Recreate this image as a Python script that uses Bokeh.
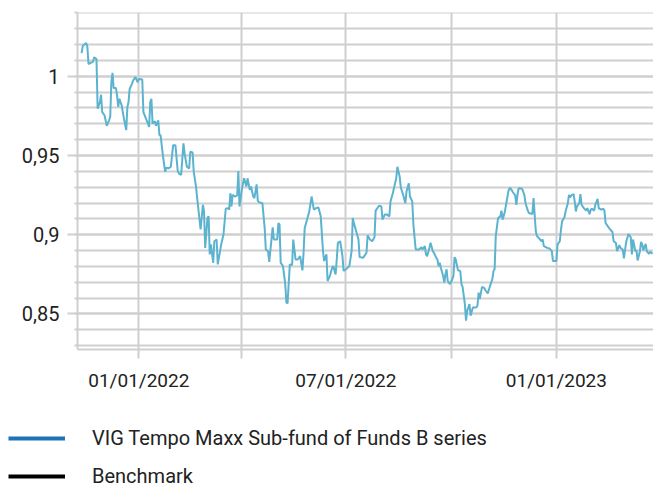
from datetime import datetime
import pandas as pd
from bokeh.plotting import figure
from bokeh.models import (Range1d, FixedTicker, CustomJSTickFormatter, Legend,
                          LegendItem, ColumnDataSource)
from bokeh.layouts import column, row
from bokeh.embed import file_html
from bokeh.resources import INLINE

# ---------------- data ----------------
DATES = [
    "2021-11-12", "2021-11-13", "2021-11-16", "2021-11-17", "2021-11-18", "2021-11-22", "2021-11-23",
    "2021-11-25", "2021-11-26", "2021-11-28", "2021-11-29", "2021-11-30", "2021-12-02", "2021-12-04",
    "2021-12-06", "2021-12-07", "2021-12-08", "2021-12-09", "2021-12-10", "2021-12-12", "2021-12-13",
    "2021-12-14", "2021-12-15", "2021-12-17", "2021-12-19", "2021-12-21", "2021-12-22", "2021-12-23",
    "2021-12-24", "2021-12-26", "2021-12-27", "2021-12-29", "2021-12-31", "2022-01-01", "2022-01-04",
    "2022-01-05", "2022-01-07", "2022-01-09", "2022-01-10", "2022-01-11", "2022-01-12", "2022-01-13",
    "2022-01-15", "2022-01-16", "2022-01-18", "2022-01-19", "2022-01-20", "2022-01-22", "2022-01-24",
    "2022-01-25", "2022-01-27", "2022-01-29", "2022-01-31", "2022-02-02", "2022-02-04", "2022-02-05",
    "2022-02-07", "2022-02-09", "2022-02-10", "2022-02-12", "2022-02-14", "2022-02-15", "2022-02-17",
    "2022-02-18", "2022-02-20", "2022-02-21", "2022-02-24", "2022-02-26", "2022-02-27", "2022-02-28",
    "2022-03-02", "2022-03-03", "2022-03-04", "2022-03-05", "2022-03-07", "2022-03-08", "2022-03-10",
    "2022-03-11", "2022-03-12", "2022-03-14", "2022-03-16", "2022-03-18", "2022-03-20", "2022-03-21",
    "2022-03-22", "2022-03-23", "2022-03-24", "2022-03-26", "2022-03-28", "2022-03-29", "2022-03-30",
    "2022-04-01", "2022-04-03", "2022-04-05", "2022-04-06", "2022-04-08", "2022-04-09", "2022-04-11",
    "2022-04-12", "2022-04-14", "2022-04-15", "2022-04-16", "2022-04-19", "2022-04-21", "2022-04-22",
    "2022-04-24", "2022-04-25", "2022-04-28", "2022-04-29", "2022-05-02", "2022-05-03", "2022-05-04",
    "2022-05-05", "2022-05-07", "2022-05-09", "2022-05-10", "2022-05-11", "2022-05-13", "2022-05-15",
    "2022-05-16", "2022-05-18", "2022-05-20", "2022-05-22", "2022-05-24", "2022-05-25", "2022-05-26",
    "2022-05-28", "2022-05-30", "2022-06-01", "2022-06-03", "2022-06-05", "2022-06-07", "2022-06-09",
    "2022-06-11", "2022-06-12", "2022-06-14", "2022-06-15", "2022-06-17", "2022-06-19", "2022-06-20",
    "2022-06-22", "2022-06-23", "2022-06-24", "2022-06-26", "2022-06-28", "2022-06-29", "2022-07-01",
    "2022-07-04", "2022-07-06", "2022-07-07", "2022-07-08", "2022-07-10", "2022-07-12", "2022-07-13",
    "2022-07-16", "2022-07-19", "2022-07-20", "2022-07-22", "2022-07-24", "2022-07-26", "2022-07-27",
    "2022-07-30", "2022-08-01", "2022-08-02", "2022-08-04", "2022-08-06", "2022-08-08", "2022-08-09",
    "2022-08-11", "2022-08-12", "2022-08-14", "2022-08-15", "2022-08-17", "2022-08-18", "2022-08-20",
    "2022-08-22", "2022-08-23", "2022-08-25", "2022-08-26", "2022-08-28", "2022-08-29", "2022-08-31",
    "2022-09-03", "2022-09-05", "2022-09-06", "2022-09-08", "2022-09-09", "2022-09-10", "2022-09-12",
    "2022-09-13", "2022-09-15", "2022-09-16", "2022-09-18", "2022-09-19", "2022-09-20", "2022-09-21",
    "2022-09-22", "2022-09-24", "2022-09-25", "2022-09-26", "2022-09-27", "2022-09-28", "2022-09-30",
    "2022-10-02", "2022-10-03", "2022-10-04", "2022-10-05", "2022-10-07", "2022-10-09", "2022-10-10",
    "2022-10-11", "2022-10-13", "2022-10-14", "2022-10-15", "2022-10-17", "2022-10-18", "2022-10-20",
    "2022-10-23", "2022-10-24", "2022-10-25", "2022-10-26", "2022-10-28", "2022-10-30", "2022-10-31",
    "2022-11-02", "2022-11-04", "2022-11-06", "2022-11-07", "2022-11-08", "2022-11-09", "2022-11-11",
    "2022-11-13", "2022-11-14", "2022-11-15", "2022-11-17", "2022-11-18", "2022-11-20", "2022-11-21",
    "2022-11-22", "2022-11-24", "2022-11-26", "2022-11-27", "2022-11-28", "2022-11-29", "2022-12-02",
    "2022-12-04", "2022-12-05", "2022-12-07", "2022-12-08", "2022-12-11", "2022-12-12", "2022-12-13",
    "2022-12-14", "2022-12-15", "2022-12-17", "2022-12-19", "2022-12-20", "2022-12-21", "2022-12-24",
    "2022-12-26", "2022-12-28", "2022-12-29", "2023-01-01", "2023-01-02", "2023-01-04", "2023-01-05",
    "2023-01-06", "2023-01-08", "2023-01-09", "2023-01-11", "2023-01-12", "2023-01-13", "2023-01-14",
    "2023-01-16", "2023-01-17", "2023-01-18", "2023-01-19", "2023-01-21", "2023-01-22", "2023-01-23",
    "2023-01-25", "2023-01-27", "2023-01-28", "2023-01-30", "2023-01-31", "2023-02-01", "2023-02-03",
    "2023-02-04", "2023-02-06", "2023-02-07", "2023-02-09", "2023-02-11", "2023-02-12", "2023-02-13",
    "2023-02-15", "2023-02-17", "2023-02-19", "2023-02-20", "2023-02-22", "2023-02-23", "2023-02-25",
    "2023-02-26", "2023-02-28", "2023-03-01", "2023-03-03", "2023-03-04", "2023-03-05", "2023-03-07",
    "2023-03-08", "2023-03-09", "2023-03-11", "2023-03-12", "2023-03-13", "2023-03-15", "2023-03-16",
    "2023-03-17", "2023-03-18", "2023-03-20", "2023-03-21", "2023-03-23", "2023-03-24", "2023-03-26",
]

NAV = [
    1.0146, 1.0192, 1.0209, 1.0188, 1.0077, 1.0092, 1.0119,
    1.0108, 0.9795, 0.9837, 0.9883, 0.9774, 0.9754, 0.9687,
    0.9722, 0.9743, 0.9962, 1.0021, 0.9925, 0.9925, 0.9879,
    0.9806, 0.9858, 0.9816, 0.9732, 0.9660, 0.9806, 0.9837,
    0.9920, 0.9952, 0.9973, 0.9994, 0.9962, 0.9983, 0.9979,
    0.9774, 0.9737, 0.9701, 0.9680, 0.9837, 0.9858, 0.9701,
    0.9716, 0.9687, 0.9722, 0.9628, 0.9628, 0.9503, 0.9398,
    0.9423, 0.9419, 0.9429, 0.9565, 0.9565, 0.9402, 0.9387,
    0.9377, 0.9576, 0.9513, 0.9429, 0.9419, 0.9523, 0.9519,
    0.9398, 0.9304, 0.9231, 0.9033, 0.9189, 0.9147, 0.8917,
    0.9105, 0.9116, 0.8876, 0.8939, 0.8823, 0.8959, 0.8970,
    0.8813, 0.8854, 0.8939, 0.9001, 0.9164, 0.9168, 0.9158,
    0.9262, 0.9179, 0.9252, 0.9241, 0.9248, 0.9402, 0.9179,
    0.9283, 0.9356, 0.9304, 0.9356, 0.9283, 0.9304, 0.9241,
    0.9231, 0.9318, 0.9214, 0.9206, 0.9199, 0.9043, 0.8907,
    0.8896, 0.8829, 0.9047, 0.8970, 0.8970, 0.9074, 0.9064,
    0.8823, 0.8802, 0.8688, 0.8572, 0.8566, 0.8813, 0.8809,
    0.8970, 0.8844, 0.8844, 0.8865, 0.8775, 0.8886, 0.9043,
    0.9095, 0.9147, 0.9241, 0.9158, 0.9168, 0.9172, 0.9116,
    0.8896, 0.8834, 0.8876, 0.8708, 0.8740, 0.8792, 0.8802,
    0.8750, 0.8844, 0.8949, 0.8959, 0.8865, 0.8771, 0.8782,
    0.8802, 0.8896, 0.9105, 0.9074, 0.9022, 0.8970, 0.8859,
    0.8854, 0.8886, 0.8997, 0.8970, 0.8959, 0.8984, 0.9152,
    0.9183, 0.9179, 0.9095, 0.9127, 0.9127, 0.9116, 0.9210,
    0.9262, 0.9293, 0.9356, 0.9429, 0.9367, 0.9298, 0.9252,
    0.9199, 0.9273, 0.9325, 0.9241, 0.9210, 0.9064, 0.8907,
    0.8907, 0.8922, 0.8907, 0.8928, 0.8876, 0.8865, 0.8917,
    0.8949, 0.8896, 0.8886, 0.8854, 0.8844, 0.8802, 0.8823,
    0.8792, 0.8740, 0.8698, 0.8750, 0.8782, 0.8708, 0.8688,
    0.8719, 0.8740, 0.8859, 0.8844, 0.8775, 0.8771, 0.8688,
    0.8671, 0.8562, 0.8458, 0.8520, 0.8562, 0.8489, 0.8541,
    0.8541, 0.8552, 0.8635, 0.8594, 0.8671, 0.8663, 0.8650,
    0.8629, 0.8677, 0.8719, 0.8771, 0.8782, 0.8991, 0.9105,
    0.9116, 0.9152, 0.9095, 0.9147, 0.9189, 0.9273, 0.9293,
    0.9293, 0.9268, 0.9248, 0.9189, 0.9252, 0.9293, 0.9290,
    0.9252, 0.9199, 0.9152, 0.9137, 0.9130, 0.9231, 0.9127,
    0.9022, 0.8991, 0.8976, 0.8959, 0.8970, 0.8928, 0.8917,
    0.8913, 0.8896, 0.8834, 0.8834, 0.8939, 0.8959, 0.9033,
    0.9085, 0.9110, 0.9147, 0.9199, 0.9252, 0.9235, 0.9248,
    0.9256, 0.9210, 0.9147, 0.9179, 0.9199, 0.9256, 0.9189,
    0.9168, 0.9152, 0.9168, 0.9130, 0.9158, 0.9164, 0.9152,
    0.9189, 0.9227, 0.9168, 0.9158, 0.9164, 0.9152, 0.9074,
    0.9053, 0.9033, 0.9017, 0.8959, 0.8949, 0.8896, 0.8934,
    0.8917, 0.8907, 0.8851, 0.8955, 0.8980, 0.9005, 0.8984,
    0.8876, 0.8970, 0.8896, 0.8901, 0.8838, 0.8896, 0.8955,
    0.8939, 0.8901, 0.8942, 0.8896, 0.8880, 0.8892, 0.8880,
]

X_TICKS = ["2022-01-01", "2022-04-01", "2022-07-01", "2022-10-01", "2023-01-01"]
Y_MAJOR = [0.85, 0.90, 0.95, 1.00]
Y_MINOR = [0.83, 0.84, 0.85, 0.86, 0.87, 0.88, 0.89, 0.90, 0.91, 0.92, 0.93,
           0.94, 0.95, 0.96, 0.97, 0.98, 0.99, 1.00, 1.01, 1.02, 1.03, 1.04]
SERIES = ["VIG Tempo Maxx Sub-fund of Funds B series", "Benchmark"]

# ---------------- style ----------------
FONT = "Roboto"
TEXT = "#222222"
GRID = "#cfcfcf"
LINE = "#5bb3cf"
LEGEND_BLUE = "#1f73b7"

src = ColumnDataSource(dict(x=pd.to_datetime(DATES), y=NAV))

p = figure(width=653, height=400, x_axis_type="datetime",
           output_backend="svg", toolbar_location=None,
           x_range=Range1d(datetime(2021, 11, 8, 9, 36), datetime(2023, 3, 26, 21, 0)),
           y_range=Range1d(0.8276, 1.0402),
           min_border_left=77, min_border_top=12, min_border_right=0,
           min_border_bottom=51)
p.outline_line_color = None
p.background_fill_color = "white"
p.border_fill_color = "white"

xticks = [pd.Timestamp(t).value / 1e6 for t in X_TICKS]
p.xaxis.ticker = FixedTicker(ticks=xticks, minor_ticks=[])
p.xaxis.formatter = CustomJSTickFormatter(code="""
const d = new Date(tick);
const m = d.getUTCMonth();
if (m !== 0 && m !== 6) { return ""; }
const mm = String(m + 1).padStart(2, "0");
const dd = String(d.getUTCDate()).padStart(2, "0");
return mm + "/" + dd + "/" + d.getUTCFullYear();
""")
p.yaxis.ticker = FixedTicker(ticks=Y_MAJOR, minor_ticks=Y_MINOR)
p.yaxis.formatter = CustomJSTickFormatter(code="""
return String(Math.round(tick * 100) / 100).replace(".", ",");
""")

for ax in (p.xaxis, p.yaxis):
    ax.axis_line_color = GRID
    ax.axis_line_width = 2
    ax.major_tick_line_color = GRID
    ax.major_tick_line_width = 2
    ax.major_tick_in = 0
    ax.minor_tick_line_color = GRID
    ax.minor_tick_line_width = 2
    ax.minor_tick_in = 0
    ax.major_label_text_font = FONT
    ax.major_label_text_color = TEXT
p.xaxis.major_label_text_font_size = "19px"
p.yaxis.major_label_text_font_size = "20px"
p.xaxis.major_tick_out = 9
p.xaxis.major_label_standoff = 10
p.yaxis.major_tick_out = 10
p.yaxis.minor_tick_out = 3
p.yaxis.major_label_standoff = 8

p.xgrid.grid_line_color = GRID
p.xgrid.grid_line_width = 2
p.ygrid.grid_line_color = GRID
p.ygrid.grid_line_width = 2
p.ygrid.minor_grid_line_color = GRID
p.ygrid.minor_grid_line_width = 2

p.line("x", "y", source=src, line_color=LINE, line_width=2)

# ---------------- legend (own strip below the chart) ----------------
lg = figure(width=653, height=89, output_backend="svg", toolbar_location=None,
            x_range=Range1d(0, 1), y_range=Range1d(0, 1),
            x_axis_location=None, y_axis_location=None,
            min_border_left=8, min_border_right=0, min_border_top=26,
            min_border_bottom=0)
lg.grid.visible = False
lg.outline_line_color = None
lg.border_fill_color = "white"
nan = float("nan")
r1 = lg.line(x=[nan], y=[nan], line_color=LEGEND_BLUE, line_width=4)
r2 = lg.line(x=[nan], y=[nan], line_color="black", line_width=4)
legend = Legend(items=[LegendItem(label=SERIES[0], renderers=[r1]),
                       LegendItem(label=SERIES[1], renderers=[r2])],
                location="top_left", orientation="vertical",
                margin=0, padding=0, spacing=14,
                glyph_width=57, glyph_height=20, label_height=20,
                label_standoff=27, border_line_color=None,
                background_fill_alpha=0,
                label_text_font=FONT, label_text_font_size="20px",
                label_text_color=TEXT)
lg.add_layout(legend)

layout = column(p, row(lg, spacing=0), spacing=0)
open("out.html", "w").write(file_html(layout, INLINE, title="chart"))
